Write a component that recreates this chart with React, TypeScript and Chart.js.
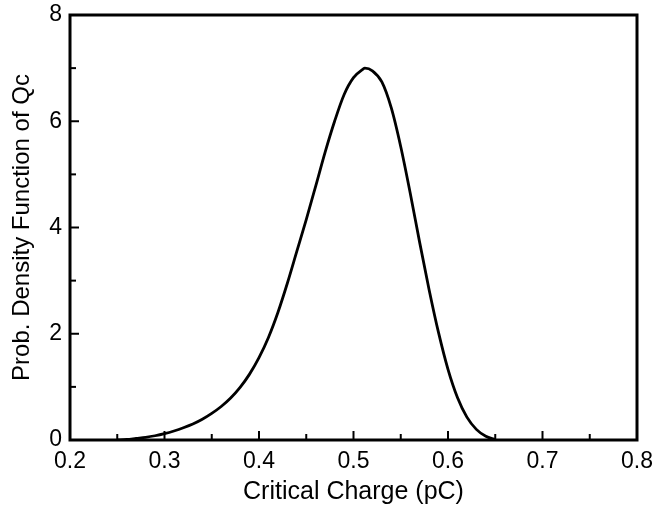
import React, { useEffect, useRef } from "react";
import { Chart, registerables } from "chart.js";

Chart.register(...registerables);

const chargeValues = [
  0.25, 0.26, 0.27, 0.28, 0.29, 0.30, 0.31, 0.32, 0.33, 0.34, 0.35, 0.36, 0.37,
  0.38, 0.39, 0.40, 0.41, 0.42, 0.43, 0.44, 0.45, 0.46, 0.47, 0.48, 0.49, 0.50,
  0.51, 0.512, 0.52, 0.53, 0.54, 0.55, 0.56, 0.57, 0.58, 0.59, 0.60, 0.61, 0.62,
  0.63, 0.64, 0.65,
];
const pdfValues = [
  0.0, 0.01, 0.03, 0.05, 0.08, 0.12, 0.17, 0.23, 0.3, 0.39, 0.5, 0.63, 0.79,
  0.99, 1.24, 1.55, 1.93, 2.4, 2.95, 3.55, 4.15, 4.78, 5.42, 6.0, 6.5, 6.82,
  6.98, 7.0, 6.95, 6.74, 6.25, 5.52, 4.65, 3.72, 2.83, 2.02, 1.33, 0.8, 0.43,
  0.2, 0.07, 0.01,
];

const xTitle = "Critical Charge (pC)";
const yTitle = "Prob. Density Function of Qc";
const xRange = [0.2, 0.8];
const yRange = [0, 8];

const FONT = "'Liberation Sans', Arial, Helvetica, sans-serif";

const framePlugin = {
  id: "frameTicks",
  afterDraw(chart: any) {
    const { ctx, chartArea } = chart;
    const { left, right, top, bottom } = chartArea;
    const xs = chart.scales.x;
    const ys = chart.scales.y;
    ctx.save();
    ctx.strokeStyle = "#000";
    ctx.lineWidth = 3;
    ctx.strokeRect(left, top, right - left, bottom - top);
    ctx.lineWidth = 2;
    const major = 9;
    const minor = 6;
    const xt = xs.ticks.map((t: any) => t.value);
    xt.forEach((v: number, i: number) => {
      const px = xs.getPixelForValue(v);
      ctx.beginPath();
      ctx.moveTo(px, bottom);
      ctx.lineTo(px, bottom - major);
      ctx.stroke();
      if (i < xt.length - 1) {
        const mx = xs.getPixelForValue((v + xt[i + 1]) / 2);
        ctx.beginPath();
        ctx.moveTo(mx, bottom);
        ctx.lineTo(mx, bottom - minor);
        ctx.stroke();
      }
    });
    const yt = ys.ticks.map((t: any) => t.value);
    yt.forEach((v: number, i: number) => {
      const py = ys.getPixelForValue(v);
      ctx.beginPath();
      ctx.moveTo(left, py);
      ctx.lineTo(left + major, py);
      ctx.stroke();
      if (i < yt.length - 1) {
        const my = ys.getPixelForValue((v + yt[i + 1]) / 2);
        ctx.beginPath();
        ctx.moveTo(left, my);
        ctx.lineTo(left + minor, my);
        ctx.stroke();
      }
    });
    ctx.restore();
  },
};

export default function App() {
  const ref = useRef<HTMLCanvasElement | null>(null);
  useEffect(() => {
    document.body.style.margin = "0";
    const canvas = ref.current;
    if (!canvas) return;
    const chart = new Chart(canvas, {
      type: "scatter",
      data: {
        datasets: [
          {
            label: "PDF",
            data: chargeValues.map((x, i) => ({ x, y: pdfValues[i] })),
            showLine: true,
            borderColor: "#000",
            borderWidth: 2.8,
            pointRadius: 0,
            cubicInterpolationMode: "monotone",
          },
        ],
      },
      options: {
        responsive: false,
        animation: false,
        layout: { padding: { top: 15, right: 21, left: 0, bottom: 0 } },
        plugins: { legend: { display: false }, tooltip: { enabled: false } },
        scales: {
          x: {
            type: "linear",
            min: xRange[0],
            max: xRange[1],
            grid: { display: false, drawTicks: false },
            border: { display: false },
            ticks: {
              stepSize: 0.1,
              padding: 8,
              color: "#000",
              font: { family: FONT, size: 23 },
              callback: (v: any) => Number(v).toFixed(1),
            },
            title: {
              display: true,
              text: xTitle,
              color: "#000",
              font: { family: FONT, size: 25 },
              padding: { top: 0, bottom: 6 },
            },
            afterFit: (s: any) => {
              s.height = 73;
              s.paddingLeft = 0;
              s.paddingRight = 0;
            },
          },
          y: {
            type: "linear",
            min: yRange[0],
            max: yRange[1],
            grid: { display: false, drawTicks: false },
            border: { display: false },
            ticks: {
              stepSize: 2,
              padding: 8,
              color: "#000",
              font: { family: FONT, size: 23 },
            },
            title: {
              display: true,
              text: yTitle,
              color: "#000",
              font: { family: FONT, size: 24 },
              padding: { top: 8, bottom: 0 },
            },
            afterFit: (s: any) => {
              s.width = 70;
              s.paddingTop = 0;
              s.paddingBottom = 0;
            },
          },
        },
      },
      plugins: [framePlugin],
    });
    return () => chart.destroy();
  }, []);
  return (
    <div style={{ width: 658, height: 513, background: "#fff" }}>
      <canvas ref={ref} width={658} height={513} />
    </div>
  );
}
